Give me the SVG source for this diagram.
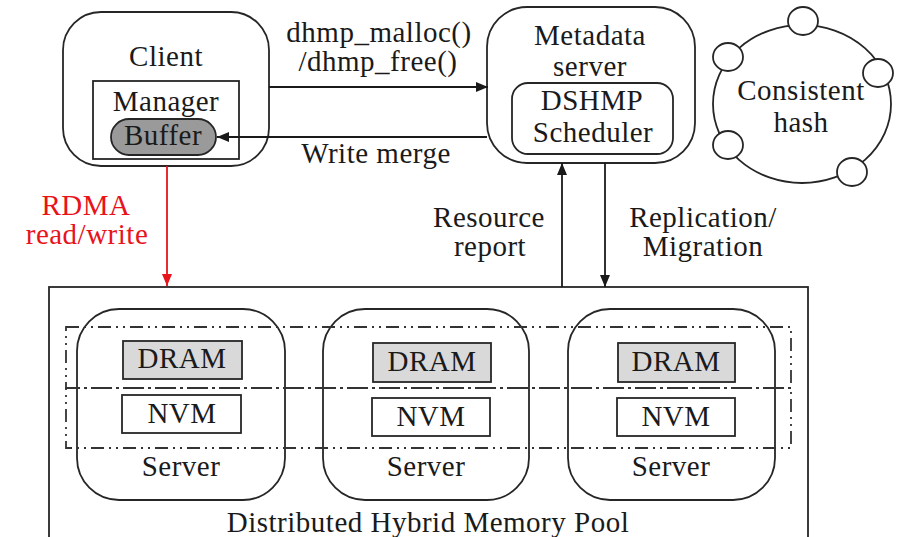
<svg xmlns="http://www.w3.org/2000/svg" width="897" height="537" viewBox="0 0 897 537">
<style>
text{font-family:"Liberation Serif","Times New Roman",serif;font-size:29px;letter-spacing:0.5px;fill:#1a1a1a;text-anchor:middle}
.red{fill:#e8131b}
.box{fill:#fff;stroke:#262626;stroke-width:1.8}
.thin{fill:none;stroke:#262626;stroke-width:1.8}
.line{fill:none;stroke:#1a1a1a;stroke-width:1.8}
.dd{fill:none;stroke:#333;stroke-width:1.8;stroke-dasharray:13 5 2 5 2 5}
</style>
<defs>
<marker id="ah" viewBox="0 0 12 10" refX="12" refY="5" markerWidth="12" markerHeight="10" markerUnits="userSpaceOnUse" orient="auto"><path d="M0,0 L12,5 L0,10 Z" fill="#1a1a1a"/></marker>
<marker id="ahr" viewBox="0 0 12 10" refX="12" refY="5" markerWidth="12" markerHeight="10" markerUnits="userSpaceOnUse" orient="auto"><path d="M0,0 L12,5 L0,10 Z" fill="#e8131b"/></marker>
</defs>

<g id="pool">
<rect class="box" x="49" y="287" width="759" height="270"/>
<text x="428" y="532">Distributed Hybrid Memory Pool</text>
</g>

<g id="server1">
<rect class="box" x="77" y="309" width="208" height="191" rx="42"/>
<rect x="123" y="341" width="119" height="38" fill="#d9d9d9" stroke="#262626" stroke-width="1.8"/>
<text x="182" y="368">DRAM</text>
<rect x="122" y="395" width="119" height="38" fill="#fff" stroke="#262626" stroke-width="1.8"/>
<text x="182" y="423">NVM</text>
<text x="181" y="476">Server</text>
</g>
<g id="server2">
<rect class="box" x="323" y="309" width="206" height="191" rx="42"/>
<rect x="373" y="343" width="118" height="39" fill="#d9d9d9" stroke="#262626" stroke-width="1.8"/>
<text x="432" y="371">DRAM</text>
<rect x="372" y="398" width="118" height="38" fill="#fff" stroke="#262626" stroke-width="1.8"/>
<text x="431" y="426">NVM</text>
<text x="426" y="476">Server</text>
</g>
<g id="server3">
<rect class="box" x="568" y="309" width="207" height="191" rx="42"/>
<rect x="618" y="343" width="117" height="39" fill="#d9d9d9" stroke="#262626" stroke-width="1.8"/>
<text x="676" y="371">DRAM</text>
<rect x="617" y="398" width="118" height="38" fill="#fff" stroke="#262626" stroke-width="1.8"/>
<text x="676" y="426">NVM</text>
<text x="671" y="476">Server</text>
</g>

<g id="tiers">
<rect class="dd" x="66" y="327" width="725" height="61"/>
<rect class="dd" x="66" y="388" width="725" height="60"/>
</g>

<g id="client">
<rect class="box" x="63" y="12" width="206" height="154" rx="38"/>
<text x="166" y="66">Client</text>
<rect class="thin" x="93" y="81" width="146" height="78"/>
<text x="166" y="111">Manager</text>
<rect x="111" y="119" width="105" height="36" rx="18" fill="#9a9a9a" stroke="#262626" stroke-width="1.8"/>
<text x="163" y="145">Buffer</text>
</g>

<g id="metadata">
<rect class="box" x="487" y="7" width="208" height="156" rx="40"/>
<text x="590" y="45">Metadata</text>
<text x="590" y="76">server</text>
<rect class="box" x="512" y="83" width="161" height="71" rx="16"/>
<text x="592" y="110">DSHMP</text>
<text x="593" y="142">Scheduler</text>
</g>

<g id="hash">
<ellipse cx="802" cy="104" rx="89" ry="79" fill="none" stroke="#262626" stroke-width="1.8"/>
<g fill="#fff" stroke="#262626" stroke-width="1.8">
<ellipse cx="803" cy="21" rx="15" ry="14"/>
<ellipse cx="728" cy="57" rx="15" ry="14"/>
<ellipse cx="878" cy="73" rx="15" ry="14"/>
<ellipse cx="728" cy="145" rx="15" ry="14"/>
<ellipse cx="852" cy="172" rx="15" ry="14"/>
</g>
<text x="801" y="100">Consistent</text>
<text x="801" y="132">hash</text>
</g>

<g id="connectors">
<line class="line" x1="269" y1="87" x2="488" y2="87" marker-end="url(#ah)"/>
<line class="line" x1="487" y1="137" x2="217" y2="137" marker-end="url(#ah)"/>
<line class="line" x1="562" y1="287" x2="562" y2="163" marker-end="url(#ah)"/>
<line class="line" x1="605" y1="163" x2="605" y2="287" marker-end="url(#ah)"/>
<line x1="167" y1="166" x2="167" y2="286" stroke="#e8131b" stroke-width="1.8" marker-end="url(#ahr)"/>
</g>

<g id="labels">
<text x="379" y="42">dhmp_malloc()</text>
<text x="378" y="71">/dhmp_free()</text>
<text x="376" y="163">Write merge</text>
<text class="red" x="86" y="215">RDMA</text>
<text class="red" x="87" y="244">read/write</text>
<text x="489" y="227">Resource</text>
<text x="490" y="256">report</text>
<text x="703" y="227">Replication/</text>
<text x="703" y="256">Migration</text>
</g>
</svg>
